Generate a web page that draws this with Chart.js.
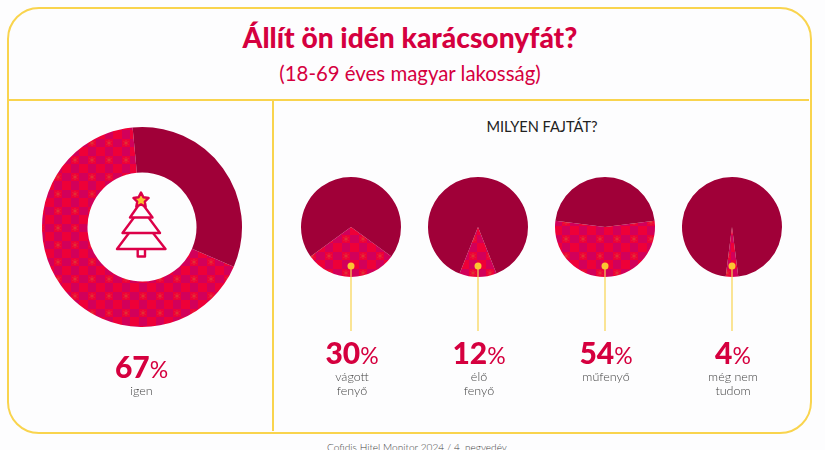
<!DOCTYPE html>
<html lang="hu">
<head>
<meta charset="utf-8">
<title>Állít ön idén karácsonyfát?</title>
<script src="https://cdn.jsdelivr.net/npm/chart.js@4"></script>
<style>
    html, body { margin: 0; padding: 0; }
    body { width: 825px; height: 450px; overflow: hidden; position: relative; background: #fdfdfe; font-family: Lato, sans-serif; }
    .frame { position: absolute; left: 7px; top: 7px; width: 801px; height: 423px; border: 2px solid #f9d44e; border-radius: 32px; }
    .hline { position: absolute; left: 8px; top: 99px; width: 801px; height: 2px; background: #f9d44e; }
    .vline { position: absolute; left: 272px; top: 100px; width: 2px; height: 331px; background: #f9d44e; }
    .text { position: absolute; text-align: center; transform: translateX(-50%); white-space: nowrap; }
    #title { left: 410px; top: 20px; font-size: 28.2px; font-weight: 900; color: #d5003f; }
    #subtitle { left: 410px; top: 61px; font-size: 20.4px; color: #d5003f; }
    #heading { left: 542px; top: 118px; font-size: 14.6px; color: #222; }
    #source { left: 417px; top: 441px; font-size: 10.1px; font-weight: 300; color: #444; }
    .pct { font-size: 30px; font-weight: 900; color: #d5003f; line-height: 32px; }
    .pct small { font-size: 23px; font-weight: 400; }
    .lbl { font-size: 12.5px; font-weight: 300; color: #444; line-height: 14px; margin-top: -1px; }
    canvas { position: absolute; }
    svg { position: absolute; }
</style>
</head>
<body>
<div class="frame"></div>
<div class="hline"></div>
<div class="vline"></div>
<div class="text" id="title">Állít ön idén karácsonyfát?</div>
<div class="text" id="subtitle">(18-69 éves magyar lakosság)</div>
<div class="text" id="heading">MILYEN FAJTÁT?</div>
<div class="text" id="source">Cofidis Hitel Monitor 2024 / 4. negyedév</div>

<canvas id="main-chart" style="left:37px;top:122px" width="210" height="210"></canvas>
<svg style="left:111px;top:188px" width="60" height="72" viewBox="111 188 60 72">
    <g fill="none" stroke="#dc0048" stroke-width="2.4" stroke-linejoin="round">
        <polygon fill="#fbc531" points="141,192.5 143.4,197.2 148.6,198 144.8,201.6 145.7,206.8 141,204.4 136.3,206.8 137.2,201.6 133.4,198 138.6,197.2"/>
        <polyline points="138,206 130,217.5 152.5,217.5 144,206"/>
        <polyline points="134,217.5 122.5,233 160,233 148.5,217.5"/>
        <polyline points="129,233 117,249 165.5,249 153,233"/>
        <polyline points="137.7,249 137.7,256.5 145,256.5 145,249"/>
    </g>
</svg>

<div id="small-charts"></div>
<div class="text" id="main-label" style="left:141.5px;top:350px">
    <div class="pct">67<small>%</small></div>
    <div class="lbl">igen</div>
</div>

<script>
const main_value = [67, 33]
const main_label = 'igen'
const categories = [['vágott', 'fenyő'], ['élő', 'fenyő'], ['műfenyő'], ['még nem', 'tudom']]
const values = [30, 12, 54, 4]
const centers = [351, 478, 605, 732]

const dark_color = '#a00038'
const line_color = '#f9d44e'

// motif fabric of the filled slices: soft checks with small flakes
const makeFabric = () => {
    const tile = document.createElement('canvas')
    tile.width = 17
    tile.height = 17
    const ctx = tile.getContext('2d')
    ctx.fillStyle = '#ee0038'
    ctx.fillRect(0, 0, 17, 17)
    ctx.fillStyle = '#d2005a'
    ctx.fillRect(8, 0, 9, 8)
    ctx.fillRect(0, 8, 8, 9)
    ctx.strokeStyle = 'rgba(214, 90, 50, 0.45)'
    ctx.lineWidth = 1
    ctx.beginPath()
    ctx.moveTo(4, 1); ctx.lineTo(4, 7)
    ctx.moveTo(1.5, 2.5); ctx.lineTo(6.5, 5.5)
    ctx.moveTo(1.5, 5.5); ctx.lineTo(6.5, 2.5)
    ctx.stroke()
    return ctx.createPattern(tile, 'repeat')
}
const fabric = makeFabric()

// yellow dot and leader below a small pie
const leaderPlugin = {
    id: 'leader',
    afterDraw(chart) {
        const {ctx} = chart
        const arc = chart.getDatasetMeta(0).data[0]
        ctx.save()
        ctx.strokeStyle = line_color
        ctx.fillStyle = '#fbc531'
        ctx.lineWidth = 1.2
        ctx.beginPath()
        ctx.moveTo(arc.x, arc.y + 39)
        ctx.lineTo(arc.x, arc.y + 104)
        ctx.stroke()
        ctx.beginPath()
        ctx.arc(arc.x, arc.y + 39, 3.5, 0, Math.PI * 2)
        ctx.fill()
        ctx.restore()
    }
}

const baseOptions = {
    responsive: false,
    animation: false,
    plugins: {legend: {display: false}, tooltip: {enabled: false}},
    layout: {padding: 0},
}

new Chart(document.getElementById('main-chart'), {
    type: 'doughnut',
    data: {
        labels: [main_label, 'nem'],
        datasets: [{data: main_value, backgroundColor: [fabric, dark_color], borderWidth: 0}]
    },
    options: {...baseOptions, cutout: '54.5%', rotation: 113.4, radius: 100},
})

const holder = document.getElementById('small-charts')
values.forEach((value, i) => {
    const canvas = document.createElement('canvas')
    canvas.width = 120
    canvas.height = 180
    canvas.style.left = `${centers[i] - 60}px`
    canvas.style.top = '167px'
    holder.appendChild(canvas)

    new Chart(canvas, {
        type: 'pie',
        data: {
            labels: [categories[i].join(' '), 'többi'],
            datasets: [{data: [value, 100 - value], backgroundColor: [fabric, dark_color], borderWidth: 0}]
        },
        options: {
            ...baseOptions,
            rotation: 180 - value * 1.8,
            radius: 50,
            layout: {padding: {bottom: 60}},
        },
        plugins: [leaderPlugin],
    })

    const label = document.createElement('div')
    label.className = 'text'
    label.style.left = `${centers[i] + 1}px`
    label.style.top = '336px'
    label.innerHTML = `<div class="pct">${value}<small>%</small></div>` +
        `<div class="lbl">${categories[i].join('<br>')}</div>`
    holder.appendChild(label)
})
</script>
</body>
</html>
